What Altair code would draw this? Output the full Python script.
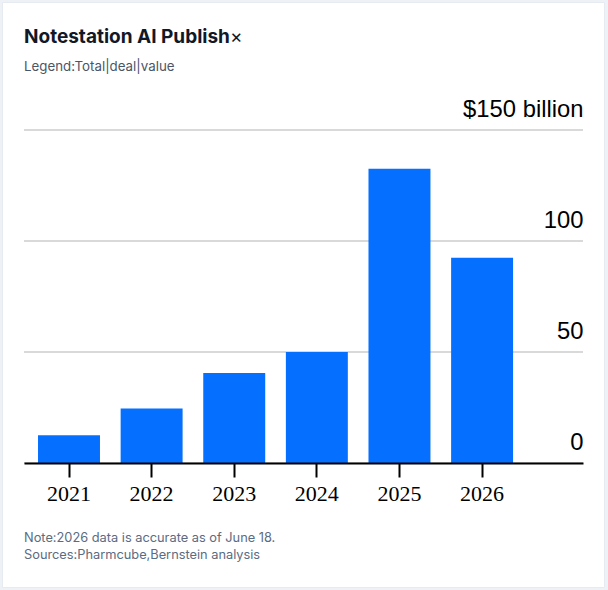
import altair as alt
import pandas as pd

# Total deal value by year, in $ billion
years = ["2021", "2022", "2023", "2024", "2025", "2026"]
deal_value = [12.5, 24.5, 40.5, 50, 132.5, 92.5]

y_ticks = [0, 50, 100, 150]

title_text = "Notestation AI Publish"
title_mark = "×"
subtitle_text = "Legend:Total|deal|value"
footer_lines = [
    "Note:2026 data is accurate as of June 18.",
    "Sources:Pharmcube,Bernstein analysis",
]

df = pd.DataFrame({"year": years, "value": deal_value})
grid_df = pd.DataFrame({"value": y_ticks})

W, H = 559, 333
PAD = {"left": 24, "top": 130, "right": 25, "bottom": 127}

y_scale = alt.Scale(domain=[0, 150], nice=False)

# Value labels sit just above their gridlines, flush with the right edge
y_axis = alt.Axis(
    title=None,
    orient="right",
    values=y_ticks,
    labelExpr="datum.value == 150 ? '$150 billion' : datum.label",
    labelFont="Liberation Sans",
    labelFontSize=23.8,
    labelColor="#000000",
    labelAlign="right",
    labelBaseline="alphabetic",
    labelOffset=-14,
    labelPadding=0,
    ticks=False,
    domain=False,
    grid=False,
    zindex=1,
)

# White card sitting on a pale page background
card = alt.Chart(alt.Data(values=[{}])).mark_rect(
    fill="#ffffff", stroke="#e6ebf1", strokeWidth=1
).encode(
    x=alt.value(-21.5),
    x2=alt.value(W + 21.5),
    y=alt.value(-127.5),
    y2=alt.value(H + 124.5),
)

# Horizontal gridlines behind the bars
grid = alt.Chart(grid_df).mark_rule(color="#cccccc", strokeWidth=1.5).encode(
    y=alt.Y("value:Q", scale=y_scale, axis=y_axis),
    x=alt.value(0),
    x2=alt.value(W),
)

bars = alt.Chart(df).mark_bar(color="#0570ff").encode(
    x=alt.X(
        "year:N",
        sort=years,
        scale=alt.Scale(paddingInner=0.25, paddingOuter=0.508, align=0.167),
        axis=alt.Axis(
            title=None,
            labelAngle=0,
            labelFont="Liberation Serif",
            labelFontSize=22,
            labelColor="#000000",
            labelPadding=6,
            domainColor="#000000",
            domainWidth=2,
            tickColor="#000000",
            tickWidth=2,
            tickSize=14,
            grid=False,
            zindex=1,
        ),
    ),
    y=alt.Y("value:Q", scale=y_scale, axis=y_axis),
)

header = alt.Chart(alt.Data(values=[{}])).mark_text(
    align="left", baseline="alphabetic", font="Inter",
    fontSize=19, fontWeight="bold", color="#111827",
).encode(x=alt.value(0), y=alt.value(-87), text=alt.value(title_text))

header_mark = alt.Chart(alt.Data(values=[{}])).mark_text(
    align="left", baseline="alphabetic", font="Inter",
    fontSize=19, fontWeight="normal", color="#111827",
).encode(x=alt.value(206), y=alt.value(-87), text=alt.value(title_mark))

subheader = alt.Chart(alt.Data(values=[{}])).mark_text(
    align="left", baseline="alphabetic", font="Inter",
    fontSize=13.3, color="#4a5568",
).encode(x=alt.value(0), y=alt.value(-59), text=alt.value(subtitle_text))

footer = alt.Chart(alt.Data(values=[{}])).mark_text(
    align="left",
    baseline="alphabetic",
    font="Inter",
    fontSize=12.8,
    lineHeight=16.5,
    color="#5b6b82",
).encode(
    x=alt.value(0),
    y=alt.value(H + 79),
    text=alt.value(footer_lines),
)

chart = alt.layer(card, grid, bars, header, header_mark, subheader, footer).properties(
    width=W,
    height=H,
    padding=PAD,
    autosize="none",
    background="#eef2f7",
).configure_view(stroke=None)

chart.save("out.html", embed_options={"renderer": "svg", "actions": False})
